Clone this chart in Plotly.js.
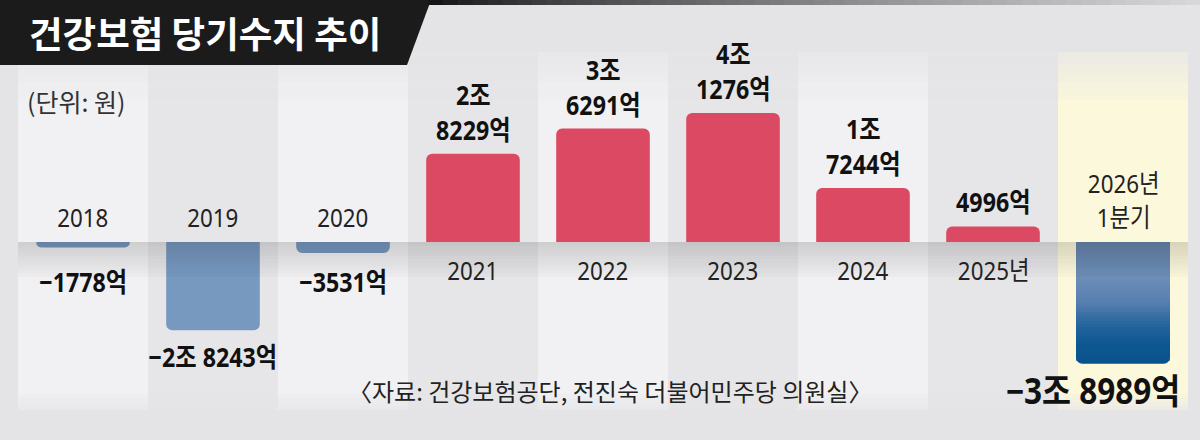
<!DOCTYPE html>
<html>
<head>
<meta charset="utf-8">
<script src="https://cdn.plot.ly/plotly-3.0.1.min.js"></script>
<style>html,body{margin:0;padding:0;background:#e4e4e6;}#chart{width:1200px;height:440px;}</style>
</head>
<body>
<div id="chart"></div>
<script>
// ---- data (단위: 억 원) ----
const categories = ["2018", "2019", "2020", "2021", "2022", "2023", "2024", "2025년", "2026년<br>1분기"];
const values = [-1778, -28243, -3531, 28229, 36291, 41276, 17244, 4996, -38989];
const titleText = "건강보험 당기수지 추이";
const unitText = "(단위: 원)";
const sourceText = "〈자료: 건강보험공단, 전진숙 더불어민주당 의원실〉";

// ---- styling ----
const W = 1200, H = 440;
const colLeft = 18, colW = 130;        // px geometry of the column stripes
const zeroPx = 242, unitsPerPx = 320;  // vertical scale
const numFont = "'Noto Sans', 'Noto Sans CJK KR', sans-serif";
const krFont = "'Noto Sans CJK KR', 'Noto Sans', sans-serif";
const RED = "#db4962", BLUE = "#7799c0";
const highlightIdx = categories.length - 1;

const xr = [(0 - colLeft) / colW - 0.5, (W - colLeft) / colW - 0.5];
const yr = [-(H - zeroPx) * unitsPerPx, zeroPx * unitsPerPx];
const px = v => v / W, py = v => 1 - v / H;

function fmt(v) {
  const a = Math.abs(v), jo = Math.floor(a / 10000), ok = a % 10000;
  const sign = v < 0 ? "−" : "";
  if (jo > 0) return sign + jo + "조" + (v < 0 ? " " : "<br>") + ok + "억";
  return sign + ok + "억";
}

const xs = categories.map((c, i) => i);

// gradient colours for highlighted bar (top -> bottom)
const gradStops = [[0, [104, 134, 172]], [0.3, [108, 142, 184]], [0.5, [88, 128, 176]], [0.7, [36, 100, 156]], [0.85, [14, 88, 146]], [1, [10, 82, 140]]];
function mix(c0, c1, f) { return c0.map((v, j) => Math.round(v + (c1[j] - v) * f)); }
function rgb(c) { return `rgb(${c[0]},${c[1]},${c[2]})`; }
function gradColor(t) {
  for (let k = 1; k < gradStops.length; k++) {
    if (t <= gradStops[k][0]) {
      const [t0, c0] = gradStops[k - 1], [t1, c1] = gradStops[k];
      return rgb(mix(c0, c1, (t - t0) / (t1 - t0)));
    }
  }
  return rgb(gradStops[gradStops.length - 1][1]);
}

const traces = [{
  type: "bar", x: xs, y: values, width: 0.72,
  marker: { color: values.map((v, i) => i === highlightIdx ? gradColor(1) : (v < 0 ? BLUE : RED)), cornerradius: 6, line: { width: 0 } },
  hoverinfo: "skip"
}];
const N = 40;
for (let k = N - 1; k >= 1; k--) {
  const f = k / N;
  traces.push({
    type: "bar", x: [xs[highlightIdx]], y: [values[highlightIdx] * f], width: 0.72,
    marker: { color: gradColor(f), line: { width: 0 } }, hoverinfo: "skip"
  });
}

const shapes = [];
const stripeTop = 52, stripeBot = 410;
categories.forEach((c, i) => {
  let col = i % 2 === 0 ? "#f1f1f3" : "#e6e6e8";
  if (i === highlightIdx) col = "#fcf8dc";
  shapes.push({ type: "rect", xref: "x", yref: "paper", x0: i - 0.5, x1: i + 0.5, y0: py(stripeBot), y1: py(stripeTop), fillcolor: col, line: { width: 0 }, layer: "below" });
});
// fade top / bottom of stripes
for (let k = 0; k < 8; k++) {
  shapes.push({ type: "rect", xref: "paper", yref: "paper", x0: px(colLeft), x1: px(colLeft + colW * categories.length), y0: py(stripeTop + k * 6 + 6), y1: py(stripeTop + k * 6), fillcolor: "#e4e4e6", opacity: 0.7 - k * 0.085, line: { width: 0 }, layer: "below" });
}
for (let k = 0; k < 4; k++) {
  shapes.push({ type: "rect", xref: "paper", yref: "paper", x0: px(colLeft), x1: px(colLeft + colW * categories.length), y0: py(stripeBot - k * 4), y1: py(stripeBot - k * 4 - 4), fillcolor: "#e4e4e6", opacity: 0.6 - k * 0.14, line: { width: 0 }, layer: "below" });
}
// shadow below zero line
for (let k = 0; k < 10; k++) {
  shapes.push({ type: "rect", xref: "paper", yref: "paper", x0: px(colLeft), x1: px(colLeft + colW * categories.length), y0: py(zeroPx + (k + 1) * 3.5), y1: py(zeroPx + k * 3.5), fillcolor: "#000", opacity: 0.14 - k * 0.013, line: { width: 0 }, layer: "above" });
}
// title bar
shapes.push({ type: "path", xref: "paper", yref: "paper", path: `M 0 ${py(0)} L ${px(431)} ${py(0)} L ${px(407)} ${py(65)} L 0 ${py(65)} Z`, fillcolor: "#1b1b1c", line: { width: 0 }, layer: "above" });
// top gradient line
const segs = 52, lineStart = 428;
for (let k = 0; k < segs; k++) {
  const a = lineStart + k * (W - lineStart) / segs, b = a + (W - lineStart) / segs + 1;
  const c = mix([20, 20, 20], [215, 215, 215], Math.pow(k / (segs - 1), 0.8));
  shapes.push({ type: "rect", xref: "paper", yref: "paper", x0: px(a), x1: px(b), y0: py(5), y1: py(0), fillcolor: rgb(c), line: { width: 0 }, layer: "above" });
}

const annotations = [];
const scaleFor = {};
values.forEach((v, i) => {
  const big = i === highlightIdx;
  scaleFor[annotations.length] = big ? 0.9 : 0.86;
  annotations.push({
    x: i, y: v >= 0 ? v : Math.min(v, -4200), xref: "x", yref: "y", text: "<b>" + fmt(v) + "</b>", showarrow: false,
    yanchor: v >= 0 ? "bottom" : "top", yshift: v >= 0 ? 4 : (big ? -1 : -6), xshift: big ? -30 : 0,
    font: { family: numFont, size: big ? 35 : 27, color: "#111" }
  });
  scaleFor[annotations.length] = 0.86;
  annotations.push({
    x: i, y: 0, xref: "x", yref: "y", text: categories[i], showarrow: false,
    yanchor: v >= 0 ? "top" : "bottom", yshift: v >= 0 ? -8 : 5,
    font: { family: numFont, size: 26, color: "#222" }
  });
});
annotations.push({ xref: "paper", yref: "paper", x: px(27), y: py(33), xanchor: "left", yanchor: "middle", showarrow: false, text: "<b>" + titleText + "</b>", font: { family: krFont, size: 36.5, color: "#ffffff" } });
annotations.push({ xref: "paper", yref: "paper", x: px(25), y: py(101), xanchor: "left", yanchor: "middle", showarrow: false, text: unitText, font: { family: krFont, size: 25, color: "#333" } });
annotations.push({ xref: "paper", yref: "paper", x: px(610), y: py(390), xanchor: "center", yanchor: "middle", showarrow: false, text: sourceText, font: { family: krFont, size: 24, color: "#222" } });

const layout = {
  width: W, height: H, margin: { l: 0, r: 0, t: 0, b: 0 },
  paper_bgcolor: "#e4e4e6", plot_bgcolor: "rgba(0,0,0,0)",
  barmode: "overlay", showlegend: false,
  xaxis: { range: xr, visible: false, fixedrange: true },
  yaxis: { range: yr, visible: false, fixedrange: true },
  shapes, annotations
};
Plotly.newPlot("chart", traces, layout, { displayModeBar: false, staticPlot: true }).then(() => {
  document.querySelectorAll("#chart g.annotation").forEach(g => {
    const idx = +g.getAttribute("data-index");
    const s = scaleFor[idx];
    if (!s) return;
    const t = g.querySelector("text.annotation-text");
    if (!t) return;
    t.style.transformBox = "fill-box";
    t.style.transformOrigin = "center";
    t.style.transform = `scaleX(${s})`;
  });
});
</script>
</body>
</html>
